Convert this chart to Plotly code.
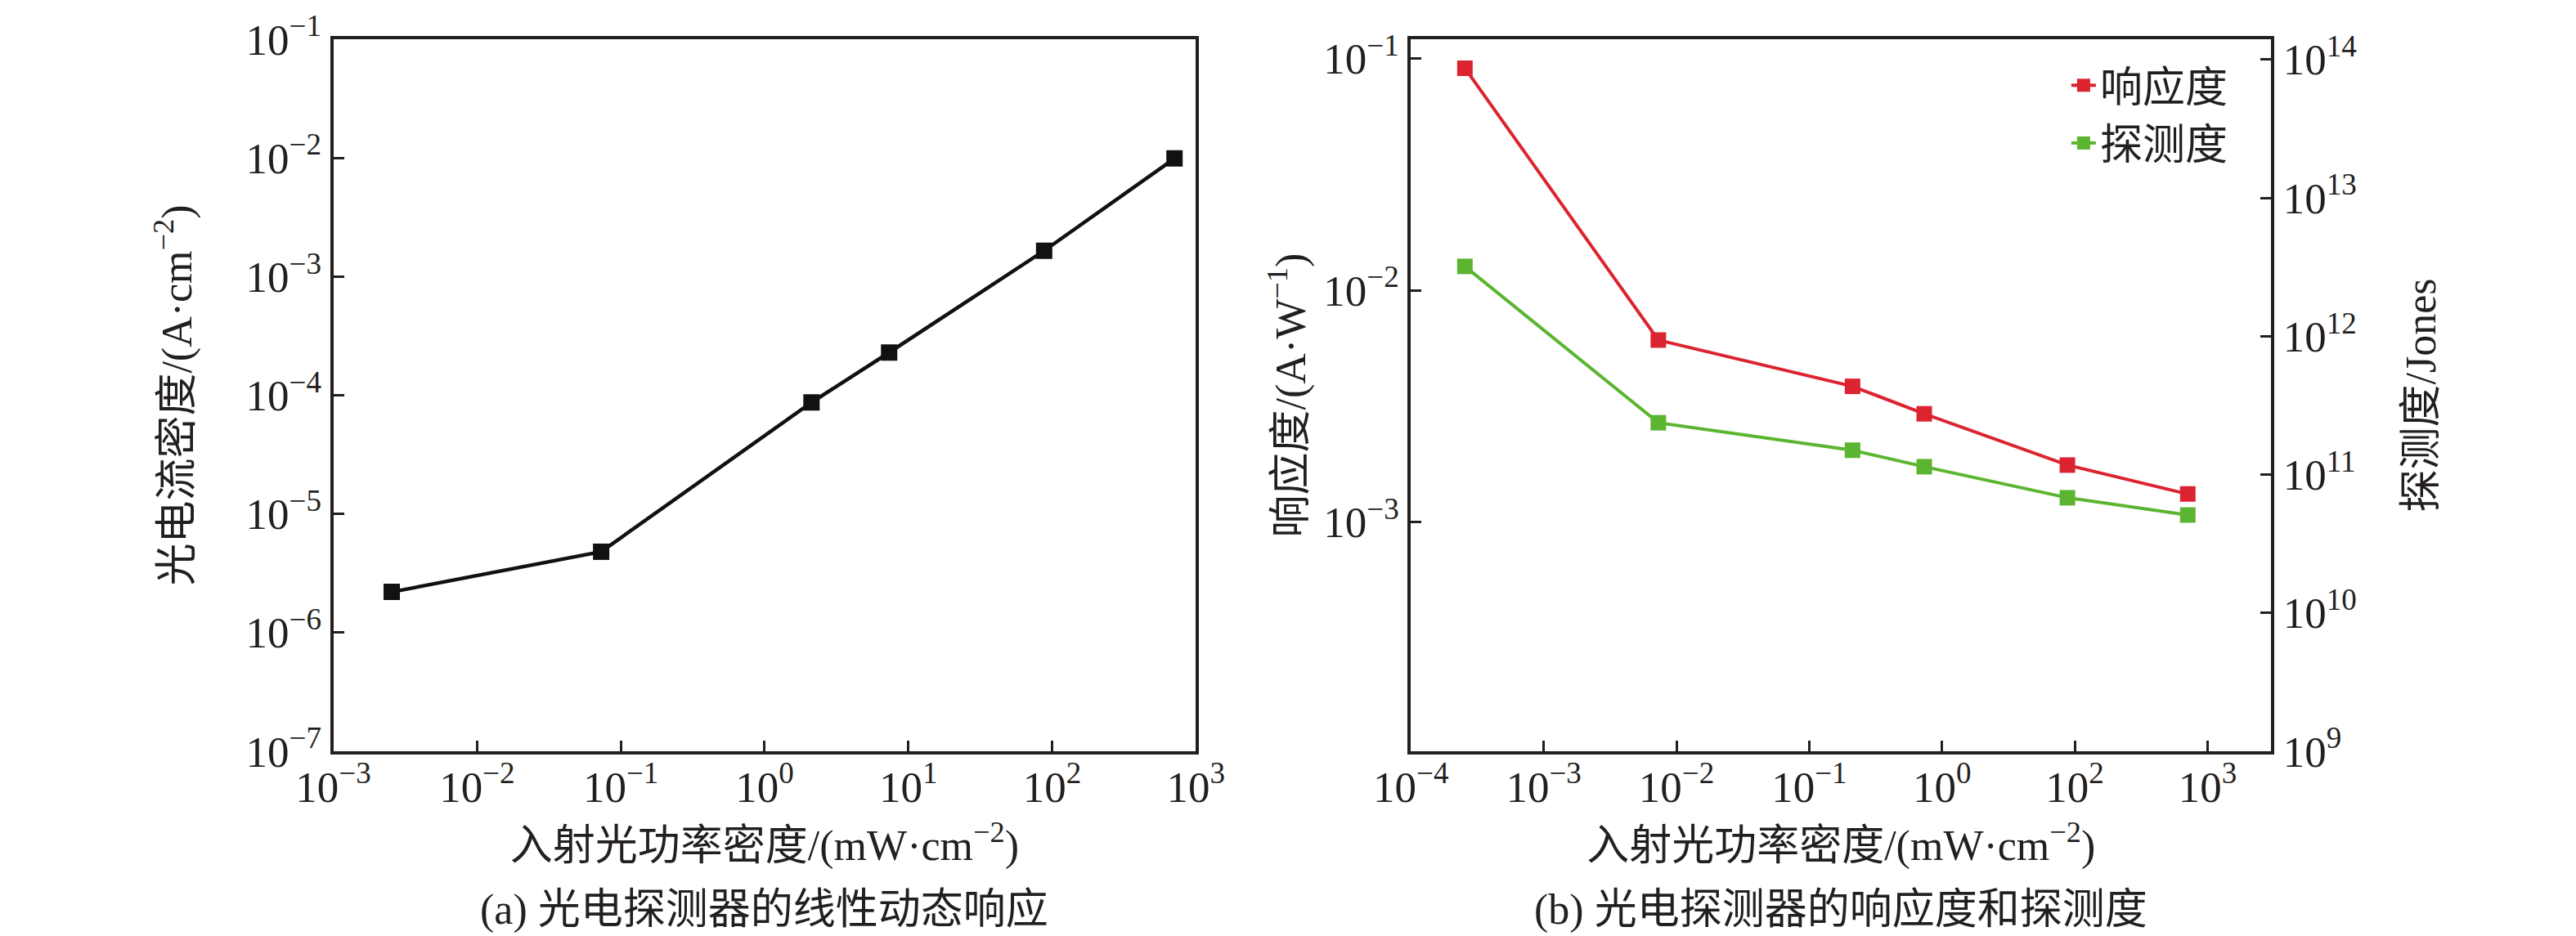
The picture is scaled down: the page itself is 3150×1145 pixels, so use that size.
import plotly.graph_objects as go

# data
power = [2.55e-3, 0.073, 2.12, 7.35, 88.0, 710.0]  # mW/cm^2
current_density = [2.2e-6, 4.8e-6, 8.7e-5, 2.29e-4, 1.65e-3, 9.9e-3]  # A/cm^2
responsivity = [0.091, 6.1e-3, 3.85e-3, 2.93e-3, 1.76e-3, 1.32e-3]  # A/W
detectivity = [3.2e12, 2.37e11, 1.5e11, 1.14e11, 6.8e10, 5.1e10]  # Jones

x_ticks = [1e-3, 1e-2, 1e-1, 1, 10, 100, 1000]
x_exp_a = [-3, -2, -1, 0, 1, 2, 3]
x_exp_b = [-4, -3, -2, -1, 0, 2, 3]  # as printed on panel (b)
y_exp_a = [-7, -6, -5, -4, -3, -2, -1]
y_exp_b = [-3, -2, -1]
y_exp_c = [9, 10, 11, 12, 13, 14]

FONT = "Times New Roman, Liberation Serif, Noto Sans CJK SC"
INK = "#231f20"
RED = "#dc2430"
GREEN = "#5cb531"

W, H = 3150, 1145
TOP, BOTTOM = 40, 911


def pow10(e):
    s = str(e).replace("-", "\u2212")
    return f"10<sup>{s}</sup>"


def axis_style(**kw):
    d = dict(
        type="log",
        showline=True, linecolor=INK, linewidth=4,
        ticks="inside", ticklen=13, tickwidth=3, tickcolor=INK,
        showgrid=False, zeroline=False,
        tickfont=dict(family=FONT, size=53, color=INK),
    )
    d.update(kw)
    return d


def title(text, standoff):
    return dict(text=text, standoff=standoff,
                font=dict(family=FONT, size=52, color=INK))


fig = go.Figure()

# (a) linear dynamic response
fig.add_trace(go.Scatter(
    x=power, y=current_density, xaxis="x", yaxis="y",
    mode="lines+markers", showlegend=False,
    line=dict(color="#111111", width=4.5),
    marker=dict(symbol="square", size=20, color="#111111"),
))

# (b) responsivity and detectivity
fig.add_trace(go.Scatter(
    x=power, y=responsivity, xaxis="x2", yaxis="y2",
    mode="lines+markers", name="响应度",
    line=dict(color=RED, width=4),
    marker=dict(symbol="square", size=19, color=RED),
))
fig.add_trace(go.Scatter(
    x=power, y=detectivity, xaxis="x2", yaxis="y3",
    mode="lines+markers", name="探测度",
    line=dict(color=GREEN, width=4),
    marker=dict(symbol="square", size=19, color=GREEN),
))

xa_dom = [363 / W, 1446 / W]
xb_dom = [1716 / W, 2796 / W]
x_title = "入射光功率密度/(mW·cm<sup>\u22122</sup>)"

fig.update_layout(
    width=W, height=H,
    margin=dict(l=0, r=0, t=TOP, b=H - BOTTOM),
    paper_bgcolor="white", plot_bgcolor="white",
    font=dict(family=FONT, size=52, color=INK),
    xaxis=axis_style(
        domain=xa_dom, anchor="y", mirror=True,
        range=[-3, 3], tickvals=x_ticks, ticktext=[pow10(e) for e in x_exp_a],
        ticklabelstandoff=-6,
        title=title(x_title, 26),
    ),
    yaxis=axis_style(
        anchor="x", mirror=True,
        range=[-7, -1], tickvals=[10.0 ** e for e in y_exp_a],
        ticktext=[pow10(e) for e in y_exp_a],
        title=title("光电流密度/(A·cm<sup>\u22122</sup>)", 50),
    ),
    xaxis2=axis_style(
        domain=xb_dom, anchor="y2", mirror=True,
        range=[-3, 3.479], tickvals=x_ticks, ticktext=[pow10(e) for e in x_exp_b],
        ticklabelstandoff=-6,
        title=title(x_title, 26),
    ),
    yaxis2=axis_style(
        anchor="x2",
        range=[-3.99, -0.916], tickvals=[10.0 ** e for e in y_exp_b],
        ticktext=[pow10(e) for e in y_exp_b],
        title=title("响应度/(A·W<sup>\u22121</sup>)", 6),
    ),
    yaxis3=axis_style(
        anchor="x2", overlaying="y2", side="right",
        range=[9.0, 14.147], tickvals=[10.0 ** e for e in y_exp_c],
        ticktext=[pow10(e) for e in y_exp_c],
        title=title("探测度/Jones", 62),
    ),
    legend=dict(
        x=2540 / W, y=1 - (56 - TOP) / (BOTTOM - TOP),
        xanchor="left", yanchor="top",
        bgcolor="rgba(0,0,0,0)", font=dict(family=FONT, size=52, color=INK),
    ),
)

captions = [
    ("(a) 光电探测器的线性动态响应", sum(xa_dom) / 2),
    ("(b) 光电探测器的响应度和探测度", sum(xb_dom) / 2),
]
for text, xc in captions:
    fig.add_annotation(
        text=text, xref="paper", yref="paper",
        x=xc, y=(BOTTOM - 1105) / (BOTTOM - TOP),
        xanchor="center", yanchor="middle", showarrow=False,
        font=dict(family=FONT, size=52, color=INK),
    )

fig.write_html("out.html")
